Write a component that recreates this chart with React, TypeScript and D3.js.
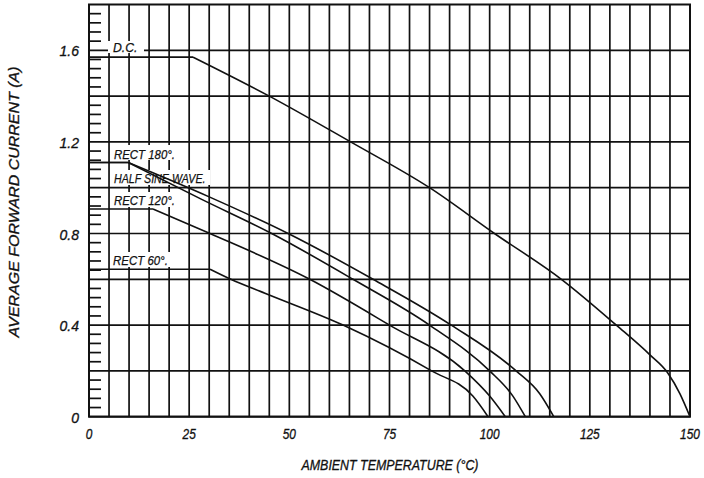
import React from 'react';
import * as d3 from 'd3';

// derating curves: [temperature °C, current A]
const dcCurve: [number, number][] = [
  [0, 1.57], [26, 1.57], [45, 1.4], [65.3, 1.2], [85, 1.0], [101.2, 0.8],
  [117.9, 0.6], [131.6, 0.4], [140, 0.27], [144.5, 0.19], [147.5, 0.1], [150, 0],
];
const rect180Curve: [number, number][] = [
  [0, 1.11], [9.8, 1.11], [30, 0.96], [49.7, 0.8], [70.9, 0.6], [90.4, 0.4],
  [106.6, 0.2], [112.5, 0.1], [116, 0],
];
const halfSineCurve: [number, number][] = [
  [0, 1.11], [9.8, 1.11], [28, 0.95], [45.6, 0.8], [65.9, 0.6], [85, 0.4],
  [100, 0.2], [105.8, 0.09], [108.9, 0],
];
const rect120Curve: [number, number][] = [
  [0, 0.907], [16, 0.907], [30.2, 0.8], [55.1, 0.6], [75, 0.4], [93.8, 0.2],
  [100, 0.09], [103.9, 0],
];
const rect60Curve: [number, number][] = [
  [0, 0.644], [30.2, 0.644], [35.4, 0.6], [43.9, 0.539], [63.4, 0.4],
  [85.5, 0.2], [95.8, 0.09], [99.6, 0],
];

const curves = [dcCurve, rect180Curve, halfSineCurve, rect120Curve, rect60Curve];
const curveLabels = ['D.C.', 'RECT 180°.', 'HALF SINE WAVE.', 'RECT 120°.', 'RECT 60°.'];

const xTickLabels = [0, 25, 50, 75, 100, 125, 150];
const yTickLabels = [0, 0.4, 0.8, 1.2, 1.6];

const xTitle = 'AMBIENT TEMPERATURE (°C)';
const yTitle = 'AVERAGE FORWARD CURRENT (A)';

const WIDTH = 704;
const HEIGHT = 478;
const font = '"Liberation Sans", Arial, sans-serif';
const ink = '#111';

// white boxes behind the curve labels (they cut the grid), plus text anchor
const labelBoxes = [
  { x: 108, y: 41, w: 36, h: 12, tx: 113, ty: 52 },
  { x: 112, y: 145, w: 66, h: 15, tx: 114, ty: 158.5 },
  { x: 112, y: 170, w: 98, h: 15, tx: 114, ty: 182.5 },
  { x: 112, y: 192, w: 66, h: 15, tx: 114, ty: 204.5 },
  { x: 112, y: 252, w: 58, h: 15, tx: 113, ty: 265 },
];

export default function App() {
  const x = d3.scaleLinear().domain([0, 150]).range([89, 690]);
  const y = d3.scaleLinear().domain([0, 1.8]).range([416.7, 4.5]);

  const vGrid = d3.range(0, 151, 5);
  const hGrid = d3.range(0, 9).map((i) => +(i * 0.2).toFixed(2));
  const minor = d3
    .range(0, 46)
    .map((i) => +(i * 0.04).toFixed(2))
    .filter((v, i) => i % 5 !== 0);

  const smooth = d3
    .line<[number, number]>()
    .x((d) => x(d[0]))
    .y((d) => y(d[1]))
    .curve(d3.curveMonotoneX);

  // flat part straight, then the falling part smoothed
  const pathFor = (pts: [number, number][]) => {
    const flat = `M${x(pts[0][0])},${y(pts[0][1])}L${x(pts[1][0])},${y(pts[1][1])}`;
    return flat + smooth(pts.slice(1));
  };

  return (
    <svg
      width={WIDTH}
      height={HEIGHT}
      style={{ position: 'absolute', left: 0, top: 0, background: '#fff' }}
    >
      <rect width={WIDTH} height={HEIGHT} fill="#fff" />
      <g stroke={ink} strokeWidth={1.7}>
        {vGrid.map((t) => (
          <line key={'v' + t} x1={x(t)} x2={x(t)} y1={y(1.8)} y2={y(0)} />
        ))}
        {hGrid.map((v) => (
          <line key={'h' + v} x1={x(0)} x2={x(150)} y1={y(v)} y2={y(v)} />
        ))}
        {minor.map((v) => (
          <line key={'m' + v} x1={x(0)} x2={x(0) + 12} y1={y(v)} y2={y(v)} />
        ))}
        <rect
          x={x(0)}
          y={y(1.8)}
          width={x(150) - x(0)}
          height={y(0) - y(1.8)}
          fill="none"
          strokeWidth={2}
        />
      </g>

      {labelBoxes.map((b, i) => (
        <g key={'lb' + i}>
          <rect x={b.x} y={b.y} width={b.w} height={b.h} fill="#fff" />
          <text
            x={b.tx}
            y={b.ty}
            fontFamily={font}
            fontStyle="italic"
            fontSize={13}
            fill={ink}
            stroke={ink}
            strokeWidth={0.25}
            textLength={curveLabels[i].length * 6.1}
            lengthAdjust="spacingAndGlyphs"
          >
            {curveLabels[i]}
          </text>
        </g>
      ))}

      <g fill="none" stroke={ink} strokeWidth={1.6}>
        {curves.map((c, i) => (
          <path key={'c' + i} d={pathFor(c)} />
        ))}
      </g>

      <g fontFamily={font} fontStyle="italic" fontSize={14} fill={ink} stroke={ink} strokeWidth={0.3}>
        {yTickLabels.map((v) => (
          <text key={'yl' + v} x={79} y={y(v) + 6} textAnchor="end">
            {v === 0 ? '0' : v.toFixed(1)}
          </text>
        ))}
        {xTickLabels.map((t) => (
          <text
            key={'xl' + t}
            x={x(t)}
            y={439}
            textAnchor="middle"
            textLength={String(t).length * 6.6}
            lengthAdjust="spacingAndGlyphs"
          >
            {t}
          </text>
        ))}
      </g>

      <g fontFamily={font} fontStyle="italic" fontSize={14} fill={ink} stroke={ink} strokeWidth={0.3}>
        <text x={390} y={470} textAnchor="middle" textLength={177} lengthAdjust="spacingAndGlyphs">
          {xTitle}
        </text>
        <text
          transform="translate(19,202) rotate(-90)"
          textAnchor="middle"
          textLength={271}
          lengthAdjust="spacingAndGlyphs"
        >
          {yTitle}
        </text>
      </g>
    </svg>
  );
}
